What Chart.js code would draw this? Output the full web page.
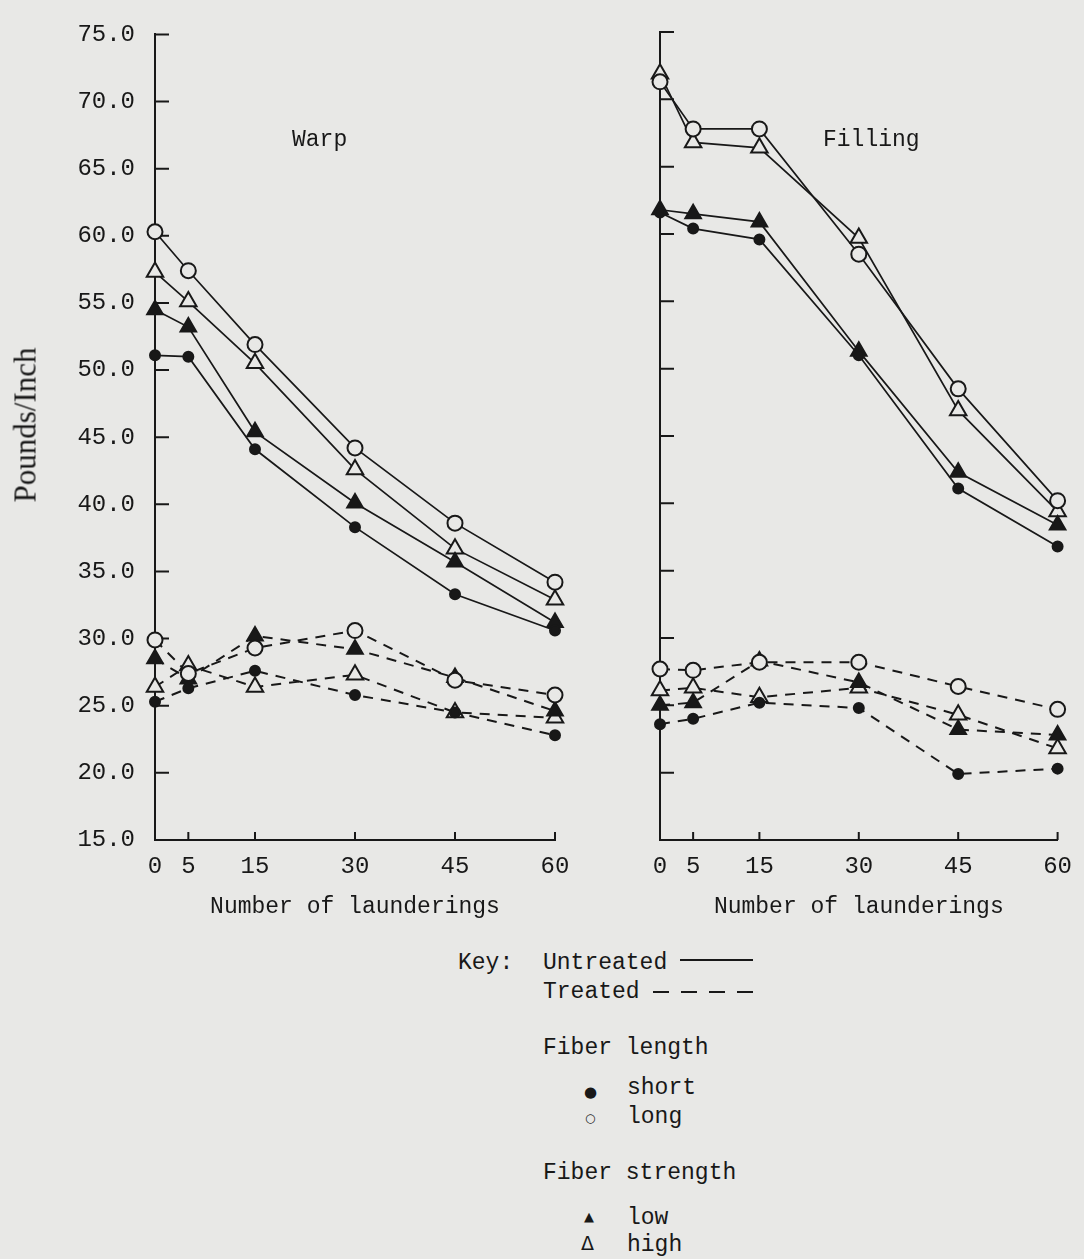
<!DOCTYPE html>
<html>
<head>
<meta charset="utf-8">
<script src="https://cdn.jsdelivr.net/npm/chart.js@4.4.1/dist/chart.umd.min.js"></script>
<style>
  html, body { margin: 0; padding: 0; background: #e8e8e6; }
  body { position: relative; width: 1084px; height: 1259px; overflow: hidden;
         font-family: 'Liberation Mono', 'DejaVu Sans Mono', monospace; color: #181818; }
  canvas { position: absolute; top: 0; }
  .txt { position: absolute; font-size: 23px; line-height: 28px; white-space: nowrap; }
  .ylab { position: absolute; left: 25px; top: 425px; font-family: 'Liberation Serif', serif;
          font-size: 31px; line-height: 31px; transform: translate(-50%, -50%) rotate(-90deg); white-space: nowrap; }
  .solid { position: absolute; left: 680px; top: 959px; width: 73px; border-top: 2px solid #181818; }
  .dash { position: absolute; left: 653px; top: 991px; width: 100px; height: 2px;
          background: repeating-linear-gradient(to right, #181818 0 16px, transparent 16px 28px); }
  .sym { position: absolute; font-family: 'DejaVu Sans', sans-serif; line-height: 20px; }
</style>
</head>
<body>
<canvas id="warpChart" width="590" height="940" style="left:0"></canvas>
<canvas id="fillingChart" width="494" height="940" style="left:590px"></canvas>

<div class="ylab">Pounds/Inch</div>
<div class="txt" style="left:292px; top:126px">Warp</div>
<div class="txt" style="left:823px; top:126px">Filling</div>

<div class="txt" style="left:458px; top:949px">Key:</div>
<div class="txt" style="left:543px; top:949px">Untreated</div>
<div class="solid"></div>
<div class="txt" style="left:543px; top:978px">Treated</div>
<div class="dash"></div>
<div class="txt" style="left:543px; top:1034px">Fiber length</div>
<div class="sym" style="left:584px; top:1082px; font-size:15px">●</div>
<div class="txt" style="left:627px; top:1074px">short</div>
<div class="sym" style="left:585px; top:1108px; font-size:12px">○</div>
<div class="txt" style="left:627px; top:1103px">long</div>
<div class="txt" style="left:543px; top:1159px">Fiber strength</div>
<div class="sym" style="left:584px; top:1207px; font-size:13px">▲</div>
<div class="txt" style="left:627px; top:1204px">low</div>
<div class="sym" style="left:581px; top:1233px; font-size:19px">Δ</div>
<div class="txt" style="left:627px; top:1231px">high</div>

<script>
// number of launderings (x axis)
const launderings = [0, 5, 15, 30, 45, 60];
const yTicksMin = 15;
const yTicksMax = 75;

// warp, untreated (solid lines)
const warpUntreatedShort = [51.1, 51.0, 44.1, 38.3, 33.3, 30.6];
const warpUntreatedLong  = [60.3, 57.4, 51.9, 44.2, 38.6, 34.2];
const warpUntreatedLow   = [54.5, 53.2, 45.4, 40.1, 35.7, 31.2];
const warpUntreatedHigh  = [57.3, 55.1, 50.5, 42.6, 36.7, 32.9];

// warp, treated (dashed lines)
const warpTreatedShort = [25.3, 26.3, 27.6, 25.8, 24.5, 22.8];
const warpTreatedLong  = [29.9, 27.4, 29.3, 30.6, 26.9, 25.8];
const warpTreatedLow   = [28.5, 27.0, 30.2, 29.2, 27.1, 24.6];
const warpTreatedHigh  = [26.4, 28.0, 26.4, 27.3, 24.5, 24.1];

// filling, untreated
const fillUntreatedShort = [61.6, 60.4, 59.6, 51.0, 41.1, 36.8];
const fillUntreatedLong  = [71.3, 67.8, 67.8, 58.5, 48.5, 40.2];
const fillUntreatedLow   = [61.8, 61.5, 60.9, 51.3, 42.3, 38.4];
const fillUntreatedHigh  = [71.9, 66.8, 66.4, 59.7, 46.9, 39.4];

// filling, treated
const fillTreatedShort = [23.6, 24.0, 25.2, 24.8, 19.9, 20.3];
const fillTreatedLong  = [27.7, 27.6, 28.2, 28.2, 26.4, 24.7];
const fillTreatedLow   = [25.0, 25.2, 28.3, 26.7, 23.2, 22.8];
const fillTreatedHigh  = [26.1, 26.3, 25.6, 26.3, 24.3, 21.8];

const ink = '#181818';
const paper = '#e8e8e6';
const mono = "'Liberation Mono', 'DejaVu Sans Mono', monospace";

const markers = {
  short: { pointStyle: 'circle', radius: 5, fill: ink },
  long: { pointStyle: 'circle', radius: 7.5, fill: paper },
  low: { pointStyle: 'triangle', radius: 9, fill: ink },
  high: { pointStyle: 'triangle', radius: 9.5, fill: paper }
};

function series(label, values, marker, treated) {
  const m = markers[marker];
  return {
    label,
    data: launderings.map((x, i) => ({ x, y: values[i] })),
    borderColor: ink,
    borderWidth: treated ? 2 : 1.7,
    borderDash: treated ? [10, 8] : [],
    pointStyle: m.pointStyle,
    pointRadius: m.radius,
    pointBackgroundColor: m.fill,
    pointBorderColor: ink,
    pointBorderWidth: 2,
    tension: 0,
    clip: false
  };
}

// short tick marks drawn inside the axes, like the typed original
const innerTicks = {
  id: 'innerTicks',
  beforeDatasetsDraw(chart) {
    const { ctx, chartArea, scales: { x, y } } = chart;
    ctx.save();
    ctx.strokeStyle = ink;
    ctx.lineWidth = 2;
    ctx.beginPath();
    y.ticks.forEach(t => {
      if (t.value === yTicksMin) return;
      const py = y.getPixelForValue(t.value);
      ctx.moveTo(chartArea.left, py);
      ctx.lineTo(chartArea.left + 14, py);
    });
    x.ticks.forEach(t => {
      if (t.value === 0) return;
      const px = x.getPixelForValue(t.value);
      ctx.moveTo(px, chartArea.bottom);
      ctx.lineTo(px, chartArea.bottom - 8);
    });
    ctx.stroke();
    ctx.restore();
  }
};

function xScale() {
  return {
    type: 'linear',
    min: 0,
    max: 60,
    afterBuildTicks: s => { s.ticks = launderings.map(v => ({ value: v })); },
    afterFit: s => { s.height = 100; },
    grid: { display: false, drawTicks: false },
    border: { color: ink, width: 2 },
    ticks: { color: ink, font: { family: mono, size: 24 }, padding: 12, maxRotation: 0, autoSkip: false },
    title: {
      display: true, text: 'Number of launderings', color: ink,
      font: { family: mono, size: 23 }, padding: { top: 0, bottom: 19 }
    }
  };
}

function yScale(showLabels, width) {
  return {
    min: yTicksMin,
    max: yTicksMax,
    afterFit: s => { s.width = width; },
    grid: { display: false, drawTicks: false },
    border: { color: ink, width: 2 },
    ticks: {
      display: showLabels, stepSize: 5, color: ink, padding: 20,
      font: { family: mono, size: 24 },
      callback: v => v.toFixed(1)
    }
  };
}

function drawPanel(id, datasets, showLabels, yWidth, rightPad) {
  new Chart(document.getElementById(id).getContext('2d'), {
    type: 'line',
    data: { datasets },
    options: {
      responsive: false,
      animation: false,
      layout: { padding: { top: 32, right: rightPad, bottom: 0, left: 0 } },
      plugins: { legend: { display: false }, tooltip: { enabled: false } },
      scales: { x: xScale(), y: yScale(showLabels, yWidth) }
    },
    plugins: [innerTicks]
  });
}

drawPanel('warpChart', [
  series('Untreated short', warpUntreatedShort, 'short', false),
  series('Untreated long', warpUntreatedLong, 'long', false),
  series('Untreated low', warpUntreatedLow, 'low', false),
  series('Untreated high', warpUntreatedHigh, 'high', false),
  series('Treated short', warpTreatedShort, 'short', true),
  series('Treated long', warpTreatedLong, 'long', true),
  series('Treated low', warpTreatedLow, 'low', true),
  series('Treated high', warpTreatedHigh, 'high', true)
], true, 155, 35);

drawPanel('fillingChart', [
  series('Untreated short', fillUntreatedShort, 'short', false),
  series('Untreated long', fillUntreatedLong, 'long', false),
  series('Untreated low', fillUntreatedLow, 'low', false),
  series('Untreated high', fillUntreatedHigh, 'high', false),
  series('Treated short', fillTreatedShort, 'short', true),
  series('Treated long', fillTreatedLong, 'long', true),
  series('Treated low', fillTreatedLow, 'low', true),
  series('Treated high', fillTreatedHigh, 'high', true)
], false, 70, 20);
</script>
</body>
</html>
